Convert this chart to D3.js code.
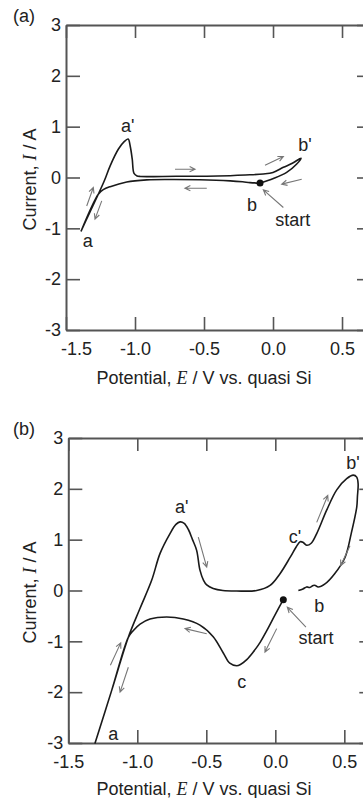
<!DOCTYPE html>
<html>
<head>
<meta charset="utf-8">
<script src="https://cdn.jsdelivr.net/npm/d3@7"></script>
<style>
  body { margin: 0; background: #fff; }
  svg { display: block; font-family: "Liberation Sans", Arial, sans-serif; }
  .axis line, .axis path { stroke: #555; }
  .lbl { font-size: 18px; fill: #222; }
</style>
</head>
<body>
<svg id="canvas" width="363" height="798"></svg>
<script>

// ---- panel (a): potential E (V) and current I (A), in scan order
var Ea = [-0.094, -0.167, -0.22, -0.31, -0.53, -0.75, -0.915, -1.06, -1.18, -1.23, -1.266, -1.39,
  -1.33, -1.266, -1.22, -1.18, -1.12, -1.08, -1.05, -1.035, -1.02, -1.007, -0.985, -0.96,
  -0.7, -0.4, -0.2, -0.07, 0.0, 0.075, 0.14, 0.203, 0.17, 0.099, 0.003, -0.094];
var Ia = [-0.11, -0.10, -0.085, -0.067, -0.045, -0.04, -0.047, -0.087, -0.18, -0.24, -0.33, -1.05,
  -0.7, -0.33, -0.05, 0.23, 0.56, 0.70, 0.755, 0.62, 0.36, 0.08, 0.03, 0.02,
  0.025, 0.03, 0.05, 0.07, 0.1, 0.2, 0.28, 0.38, 0.26, 0.1, -0.02, -0.11];

// ---- panel (b)
var Eb = [0.058, 0.0, -0.062, -0.11, -0.16, -0.207, -0.25, -0.28, -0.33, -0.377, -0.45, -0.546,
  -0.667, -0.787, -0.908, -0.98, -1.03, -1.065, -1.185, -1.306,
  -1.185, -1.065, -0.98, -0.896, -0.835, -0.763, -0.72, -0.69, -0.66, -0.63, -0.6, -0.57,
  -0.546, -0.52, -0.497, -0.45, -0.38, -0.28, -0.135, -0.038, 0.034, 0.107, 0.15, 0.18,
  0.2, 0.227, 0.26, 0.3, 0.372, 0.445, 0.517, 0.565, 0.59, 0.6, 0.595, 0.59, 0.55, 0.505,
  0.43, 0.36, 0.31, 0.29, 0.275, 0.25, 0.227, 0.2, 0.167];
var Ib = [-0.18, -0.47, -0.79, -1.02, -1.21, -1.36, -1.45, -1.48, -1.43, -1.23, -0.91, -0.68,
  -0.56, -0.52, -0.56, -0.66, -0.79, -0.92, -1.96, -3.0,
  -1.96, -0.92, -0.35, 0.2, 0.73, 1.12, 1.3, 1.35, 1.32, 1.2, 1.0, 0.79,
  0.40, 0.2, 0.11, 0.04, 0.0, -0.01, 0.0, 0.1, 0.33, 0.65, 0.85, 0.96,
  0.95, 0.89, 0.93, 1.12, 1.58, 1.98, 2.2, 2.27, 2.23, 2.1, 1.85, 1.64, 1.12, 0.65,
  0.33, 0.13, 0.07, 0.1, 0.1, 0.06, 0.07, 0.03, 0.0];

// start points
var startA = [-0.094, -0.11];
var startB = [0.058, -0.18];

// ticks
var xTicks = [-1.5, -1.0, -0.5, 0.0, 0.5];
var yTicks = [-3, -2, -1, 0, 1, 2, 3];

// direction arrows [E1, I1, E2, I2]
var arrowsA = [
  [-1.35, -0.56, -1.302, -0.197],
  [-1.241, -0.46, -1.29, -0.82],
  [-0.71, 0.163, -0.565, 0.163],
  [-0.48, -0.21, -0.638, -0.21],
  [-0.058, 0.242, 0.075, 0.413],
  [0.208, -0.033, 0.063, -0.13],
  [0.075, -0.59, -0.07, -0.244]
];
var arrowsB = [
  [-1.195, -1.47, -1.12, -1.03],
  [-1.065, -1.51, -1.125, -2.0],
  [-0.497, -0.85, -0.654, -0.75],
  [0.01, -0.75, -0.075, -1.21],
  [0.222, -0.72, 0.087, -0.33],
  [-0.558, 1.05, -0.497, 0.46],
  [0.3, 1.34, 0.38, 1.87],
  [0.541, 0.88, 0.474, 0.49]
];

// point labels [text, E, I]
var labelsA = [["a'", -1.053, 1.02], ["b'", 0.232, 0.655], ["b", -0.152, -0.53],
  ["start", 0.143, -0.83], ["a", -1.343, -1.25]];
var labelsB = [["a'", -0.678, 1.64], ["c'", 0.143, 1.05], ["b'", 0.563, 2.52],
  ["b", 0.319, -0.29], ["start", 0.295, -0.92], ["c", -0.243, -1.8], ["a", -1.174, -2.82]];

var svg = d3.select("#canvas");

function drawPanel(p) {
  var g = svg.append("g").attr("transform", "translate(" + p.left + "," + p.top + ")");
  var w = 305, h = p.h;

  var x = d3.scaleLinear().domain([-1.5, 0.71]).range([0, w]);
  var y = d3.scaleLinear().domain([-3, 3]).range([h, 0]);

  var fmtX = function(d) { return d.toFixed(1); };
  var fmtY = function(d) { return String(d); };

  // axes: ticks pointing inward, labels only on left and bottom
  var bottom = g.append("g").attr("class", "axis").attr("transform", "translate(0," + h + ")")
    .call(d3.axisBottom(x).tickValues(xTicks).tickSizeInner(-13).tickSizeOuter(0).tickPadding(12).tickFormat(fmtX));
  g.append("g").attr("class", "axis")
    .call(d3.axisTop(x).tickValues(xTicks).tickSizeInner(-13).tickSizeOuter(0).tickFormat(""));
  var left = g.append("g").attr("class", "axis")
    .call(d3.axisLeft(y).tickValues(yTicks).tickSizeInner(-14).tickSizeOuter(0).tickPadding(5).tickFormat(fmtY));
  g.append("g").attr("class", "axis").attr("transform", "translate(" + w + ",0)")
    .call(d3.axisRight(y).tickValues(yTicks).tickSizeInner(-14).tickSizeOuter(0).tickFormat(""));

  g.selectAll(".axis path").attr("stroke-width", 2);
  g.selectAll(".axis line").attr("stroke-width", 1.6);
  g.selectAll(".axis text").attr("font-size", 18).attr("fill", "#222")
    .attr("font-family", "'Liberation Sans', Arial, sans-serif");
  left.selectAll("text").attr("x", -5);
  bottom.selectAll("text").attr("y", 12);
  if (p.shiftFirst) {
    bottom.selectAll("text").filter(function(d) { return d === -1.5; }).attr("dx", 10);
  }

  // curve
  var line = d3.line()
    .x(function(d) { return x(d[0]); })
    .y(function(d) { return y(d[1]); })
    .curve(d3.curveCatmullRom.alpha(0.5));

  g.append("path")
    .datum(d3.zip(p.E, p.I))
    .attr("d", line)
    .attr("fill", "none")
    .attr("stroke", "#1a1a1a")
    .attr("stroke-width", 1.6)
    .attr("stroke-linejoin", "round");

  g.append("circle")
    .attr("cx", x(p.start[0]))
    .attr("cy", y(p.start[1]))
    .attr("r", 3.5)
    .attr("fill", "#111");

  // arrows
  g.selectAll(".arr")
    .data(p.arrows)
    .enter().append("path")
    .attr("class", "arr")
    .attr("d", function(d) {
      var x1 = x(d[0]), y1 = y(d[1]), x2 = x(d[2]), y2 = y(d[3]);
      var a = Math.atan2(y2 - y1, x2 - x1), L = 6, s = 0.45;
      var hx1 = x2 - L * Math.cos(a - s), hy1 = y2 - L * Math.sin(a - s);
      var hx2 = x2 - L * Math.cos(a + s), hy2 = y2 - L * Math.sin(a + s);
      return "M" + x1 + "," + y1 + "L" + x2 + "," + y2 +
        "M" + hx1 + "," + hy1 + "L" + x2 + "," + y2 + "L" + hx2 + "," + hy2;
    })
    .attr("fill", "none")
    .attr("stroke", "#777")
    .attr("stroke-width", 1.1);

  // point labels
  g.selectAll(".pt")
    .data(p.labels)
    .enter().append("text")
    .attr("class", "lbl")
    .attr("x", function(d) { return x(d[1]); })
    .attr("y", function(d) { return y(d[2]); })
    .attr("dy", "0.35em")
    .attr("text-anchor", "middle")
    .attr("font-size", function(d) { return d[0] === "start" ? 16 : 18; })
    .text(function(d) { return d[0]; });

  // panel tag
  svg.append("text").attr("class", "lbl")
    .attr("x", 24).attr("y", p.top - 9).attr("dy", "0.35em")
    .attr("text-anchor", "middle")
    .text(p.tag);

  // y title
  var yt = svg.append("text").attr("class", "lbl")
    .attr("transform", "translate(" + 36 + "," + (p.top + h / 2 + 2) + ") rotate(-90)")
    .attr("text-anchor", "middle");
  yt.append("tspan").text("Current, ");
  yt.append("tspan").attr("font-family", "'Liberation Serif', 'Times New Roman', serif").attr("font-style", "italic").text("I");
  yt.append("tspan").text(" / A");

  // x title
  var xt = svg.append("text").attr("class", "lbl")
    .attr("x", 204).attr("y", p.top + h + p.titleGap)
    .attr("text-anchor", "middle");
  xt.append("tspan").text("Potential, ");
  xt.append("tspan").attr("font-family", "'Liberation Serif', 'Times New Roman', serif").attr("font-style", "italic").text("E");
  xt.append("tspan").text(" / V vs. quasi Si");
}

drawPanel({ tag: "(a)", left: 66, top: 25, h: 305, E: Ea, I: Ia, start: startA,
  arrows: arrowsA, labels: labelsA, shiftFirst: true, titleGap: 54 });
drawPanel({ tag: "(b)", left: 68.3, top: 438, h: 305, E: Eb, I: Ib, start: startB,
  arrows: arrowsB, labels: labelsB, shiftFirst: false, titleGap: 52 });

</script>
</body>
</html>
